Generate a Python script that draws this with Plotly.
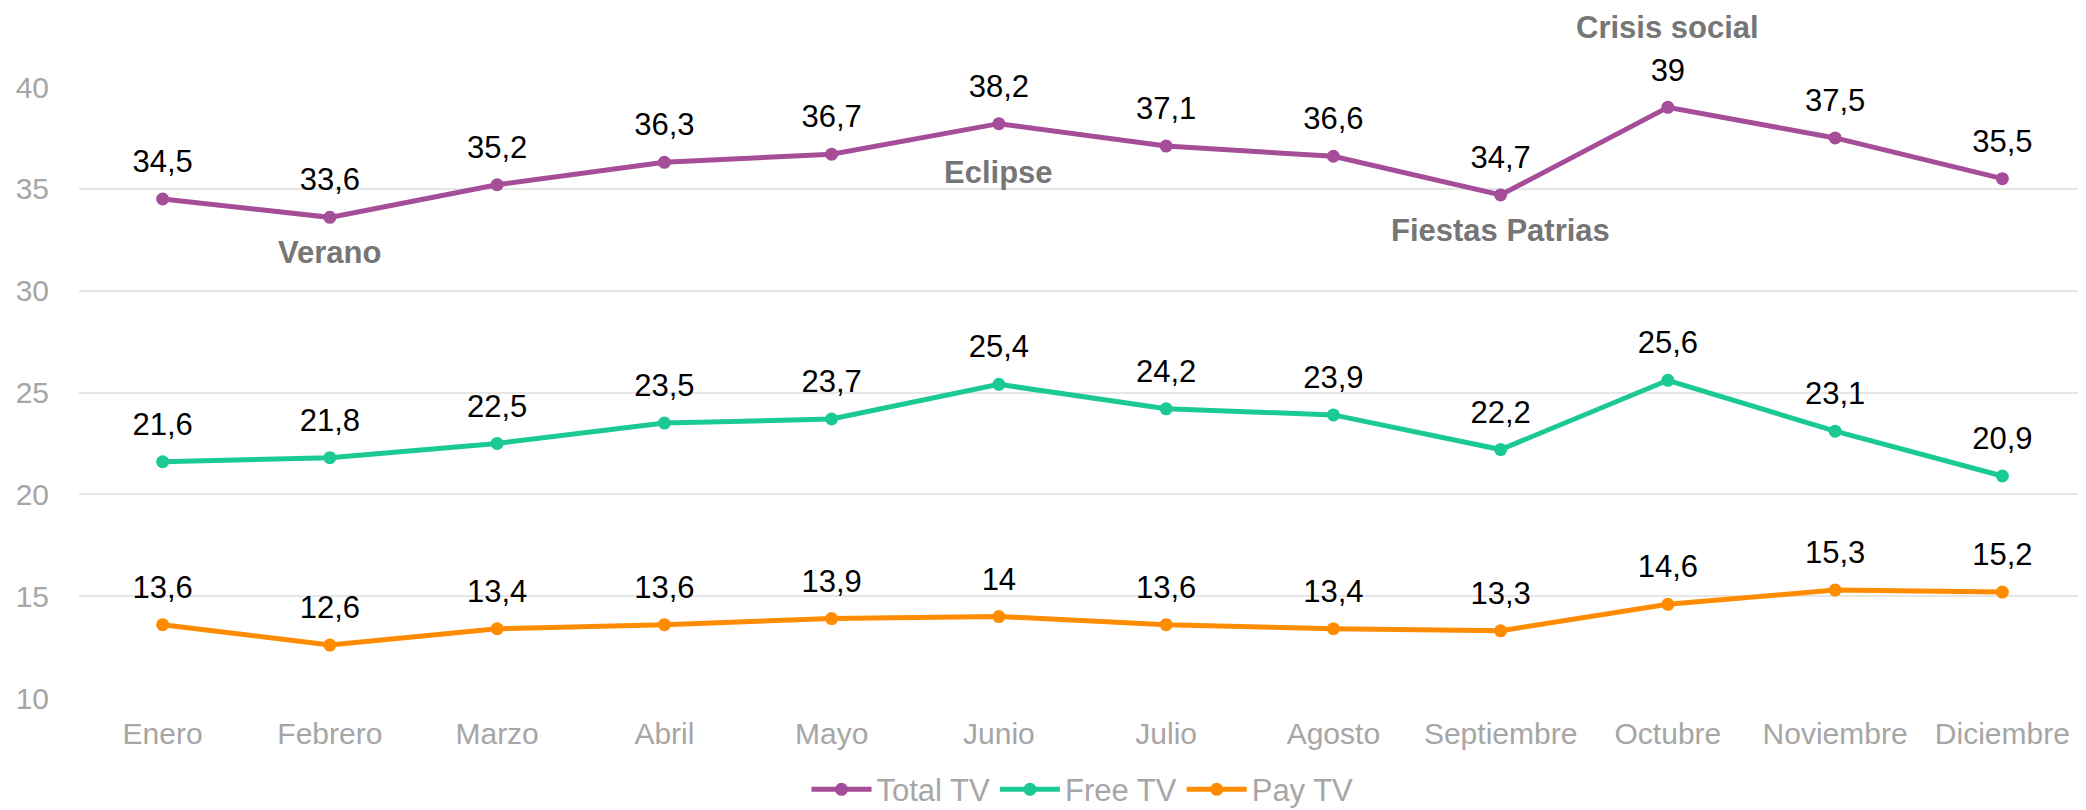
import plotly.graph_objects as go

months = ["Enero", "Febrero", "Marzo", "Abril", "Mayo", "Junio", "Julio",
          "Agosto", "Septiembre", "Octubre", "Noviembre", "Diciembre"]
total_tv = [34.5, 33.6, 35.2, 36.3, 36.7, 38.2, 37.1, 36.6, 34.7, 39, 37.5, 35.5]
free_tv = [21.6, 21.8, 22.5, 23.5, 23.7, 25.4, 24.2, 23.9, 22.2, 25.6, 23.1, 20.9]
pay_tv = [13.6, 12.6, 13.4, 13.6, 13.9, 14, 13.6, 13.4, 13.3, 14.6, 15.3, 15.2]

events = ["Verano", "Eclipse", "Fiestas Patrias", "Crisis social"]
event_months = ["Febrero", "Junio", "Septiembre", "Octubre"]
event_y = [31.85, 35.82, 32.93, 42.9]

y_min, y_max = 10, 40

series = [("Total TV", total_tv, "#A54D98"),
          ("Free TV", free_tv, "#1BC995"),
          ("Pay TV", pay_tv, "#FF8C00")]

FONT = "Liberation Sans, Arial"

def fmt(v):
    return f"{v:g}".replace(".", ",")

fig = go.Figure()
for name, vals, color in series:
    fig.add_trace(go.Scatter(
        x=months, y=vals, name=name, mode="lines+markers",
        line=dict(color=color, width=5),
        marker=dict(color=color, size=13),
        cliponaxis=False, hoverinfo="x+y+name",
    ))
for name, vals, color in series:
    fig.add_trace(go.Scatter(
        x=months, y=vals, name=name, mode="markers+text", showlegend=False,
        marker=dict(color="rgba(0,0,0,0)", size=29),
        text=[fmt(v) for v in vals], textposition="top center",
        textfont=dict(family=FONT, size=31, color="#000000"),
        cliponaxis=False, hoverinfo="skip",
    ))

for label, m, yv in zip(events, event_months, event_y):
    fig.add_annotation(x=m, xref="x", y=(yv - y_min) / (y_max - y_min), yref="paper",
                       xanchor="center", yanchor="middle",
                       text=f"<b>{label}</b>", showarrow=False,
                       font=dict(family=FONT, size=31, color="#767676"))

# page body has an 8px default margin: the figure is sized to fit inside the window
fig.update_layout(
    width=2078, height=802,
    margin=dict(l=71, r=0, t=79, b=112, autoexpand=False),
    paper_bgcolor="white", plot_bgcolor="white",
    font=dict(family=FONT, size=30, color="#A6A6A6"),
    showlegend=True,
    legend=dict(orientation="h", x=0.5, xanchor="center", y=-0.15, yanchor="middle",
                font=dict(size=31, color="#A6A6A6"), itemwidth=60, tracegroupgap=0),
)
fig.update_xaxes(range=[-0.5, 11.5], showgrid=False, showline=False, zeroline=False,
                 automargin=False,
                 tickfont=dict(size=30, color="#A6A6A6"), ticklabelstandoff=15)
fig.update_yaxes(range=[y_min, y_max], dtick=5, showgrid=True, gridcolor="#E6E6E6", gridwidth=2,
                 zeroline=False, showline=False, automargin=False,
                 tickfont=dict(size=30, color="#A6A6A6"), ticklabelstandoff=29)

fig.write_html("out.html")
